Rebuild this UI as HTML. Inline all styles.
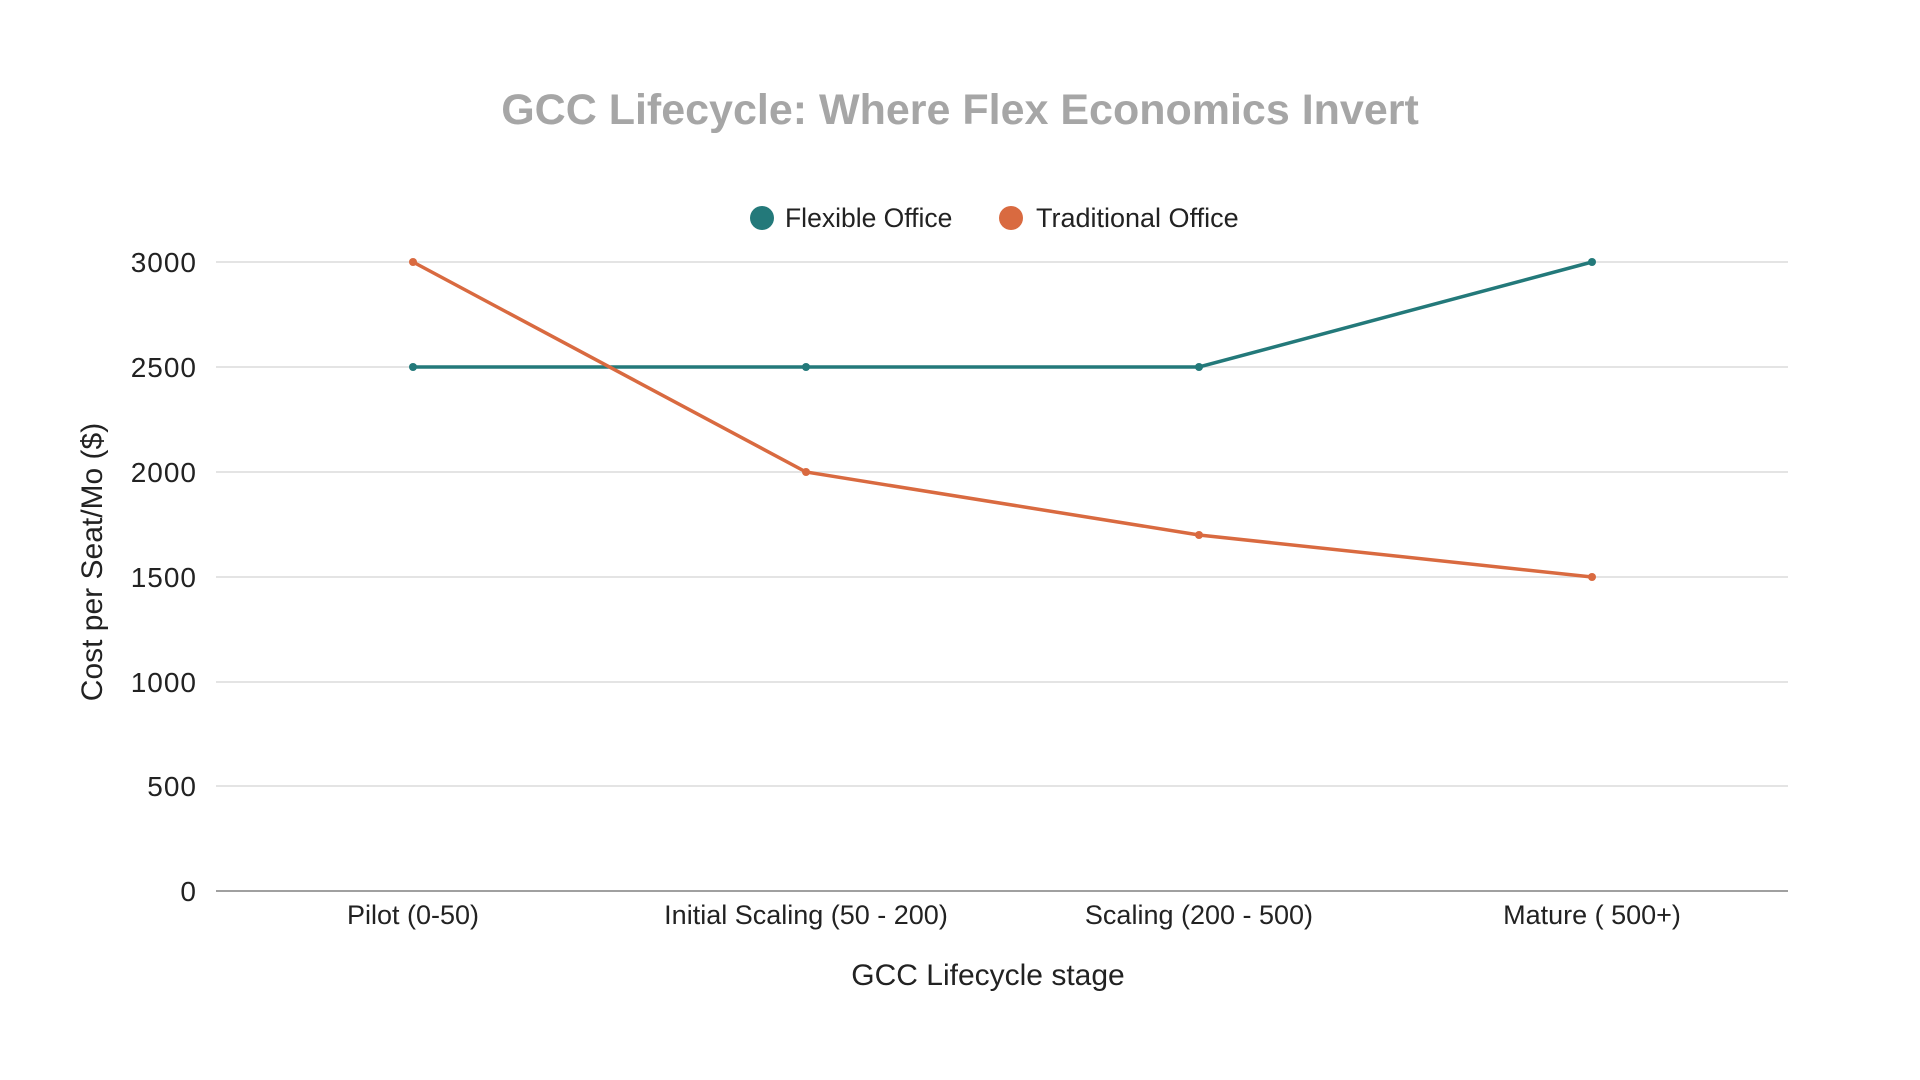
<!DOCTYPE html>
<html><head><meta charset="utf-8"><style>
html,body{margin:0;padding:0;background:#fff;width:1920px;height:1080px;overflow:hidden}
text{font-family:"Liberation Sans",sans-serif}
</style></head><body>
<svg width="1920" height="1080" viewBox="0 0 1920 1080" xmlns="http://www.w3.org/2000/svg">
<text x="960" y="124" text-anchor="middle" font-size="43" font-weight="bold" fill="#a6a6a6">GCC Lifecycle: Where Flex Economics Invert</text>
<circle cx="762" cy="218" r="12" fill="#23797a"/>
<text x="785" y="227" font-size="26.5" fill="#222">Flexible Office</text>
<circle cx="1011" cy="218" r="12" fill="#d96a40"/>
<text x="1036" y="227" font-size="27" fill="#222">Traditional Office</text>
<g stroke="#dcdcdc" stroke-width="1.5">
<line x1="216" x2="1788" y1="262" y2="262"/>
<line x1="216" x2="1788" y1="367" y2="367"/>
<line x1="216" x2="1788" y1="472" y2="472"/>
<line x1="216" x2="1788" y1="577" y2="577"/>
<line x1="216" x2="1788" y1="682" y2="682"/>
<line x1="216" x2="1788" y1="786" y2="786"/>
</g>
<line x1="216" x2="1788" y1="891" y2="891" stroke="#a0a0a0" stroke-width="2"/>
<g font-size="28" fill="#222" text-anchor="end" letter-spacing="1">
<text x="197" y="272">3000</text>
<text x="197" y="377">2500</text>
<text x="197" y="482">2000</text>
<text x="197" y="587">1500</text>
<text x="197" y="692">1000</text>
<text x="197" y="796">500</text>
<text x="197" y="901">0</text>
</g>
<g font-size="27" fill="#222" text-anchor="middle">
<text x="413" y="924">Pilot (0-50)</text>
<text x="806" y="924">Initial Scaling (50 - 200)</text>
<text x="1199" y="924">Scaling (200 - 500)</text>
<text x="1592" y="924">Mature ( 500+)</text>
<text x="988" y="985" font-size="30">GCC Lifecycle stage</text>
<text transform="translate(102,562) rotate(-90)" font-size="30">Cost per Seat/Mo ($)</text>
</g>
<polyline points="413,367 806,367 1199,367 1592,262" fill="none" stroke="#23797a" stroke-width="3.5"/>
<polyline points="413,262 806,472 1199,535 1592,577" fill="none" stroke="#d96a40" stroke-width="3.5"/>
<g fill="#23797a"><circle cx="413" cy="367" r="4"/><circle cx="806" cy="367" r="4"/><circle cx="1199" cy="367" r="4"/><circle cx="1592" cy="262" r="4"/></g>
<g fill="#d96a40"><circle cx="413" cy="262" r="4"/><circle cx="806" cy="472" r="4"/><circle cx="1199" cy="535" r="4"/><circle cx="1592" cy="577" r="4"/></g>
</svg>
</body></html>
